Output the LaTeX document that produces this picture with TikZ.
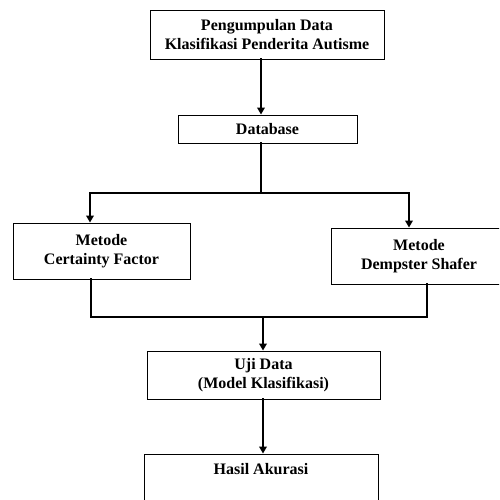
\documentclass[tikz,border=0pt]{standalone}
\usepackage{fontspec}
\setmainfont{Liberation Serif}
\usetikzlibrary{arrows.meta}
\tikzset{
  box/.style={draw=black, line width=0.9pt, fill=white, inner sep=0pt, align=center,
    font=\fontsize{16}{19.5}\selectfont\bfseries},
  conn/.style={line width=2.8pt, line cap=rect},
  arr/.style={conn, -{Triangle[length=7pt,width=7.5pt]}}
}
\begin{document}
\begin{tikzpicture}[x=1pt,y=-1pt]
\useasboundingbox (0,0) rectangle (499,500);
\clip (0,0) rectangle (499,500);
\fill[white] (0,0) rectangle (499,500);
% nodes
\node[box, minimum width=234pt, minimum height=49pt] (pd) at (267,34.5) {Pengumpulan Data\\Klasifikasi Penderita Autisme};
\node[box, minimum width=179pt, minimum height=28pt] (db) at (267.5,129) {Database};
\node[box, minimum width=177pt, minimum height=56pt] (cf) at (101.5,251) {Metode\\Certainty Factor};
\node[box, minimum width=176pt, minimum height=56pt] (ds) at (419,256) {Metode\\Dempster Shafer};
\node[box, minimum width=233pt, minimum height=48pt] (uji) at (263.5,375) {Uji Data\\(Model Klasifikasi)};
\node[box, minimum width=234pt, minimum height=56pt] (hasil) at (261,482) {Hasil Akurasi\\\strut};
% helper coordinates
\coordinate (j1) at (261,193);
\coordinate (lx) at (90,0);
\coordinate (rx) at (409,0);
\coordinate (lb) at (91,0);
\coordinate (rb) at (427,0);
\coordinate (j2) at (263,317);
% connectors
\draw[arr] (pd.south -| j1) -- (db.north -| j1);
\draw[conn] (db.south -| j1) -- (j1);
\draw[arr] (j1) -| (cf.north -| lx);
\draw[arr] (j1) -| (ds.north -| rx);
\draw[conn] (cf.south -| lb) |- (j2) -| (ds.south -| rb);
\draw[arr] (j2) -- (uji.north -| j2);
\draw[arr] (uji.south -| j2) -- (hasil.north -| j2);
\end{tikzpicture}
\end{document}
